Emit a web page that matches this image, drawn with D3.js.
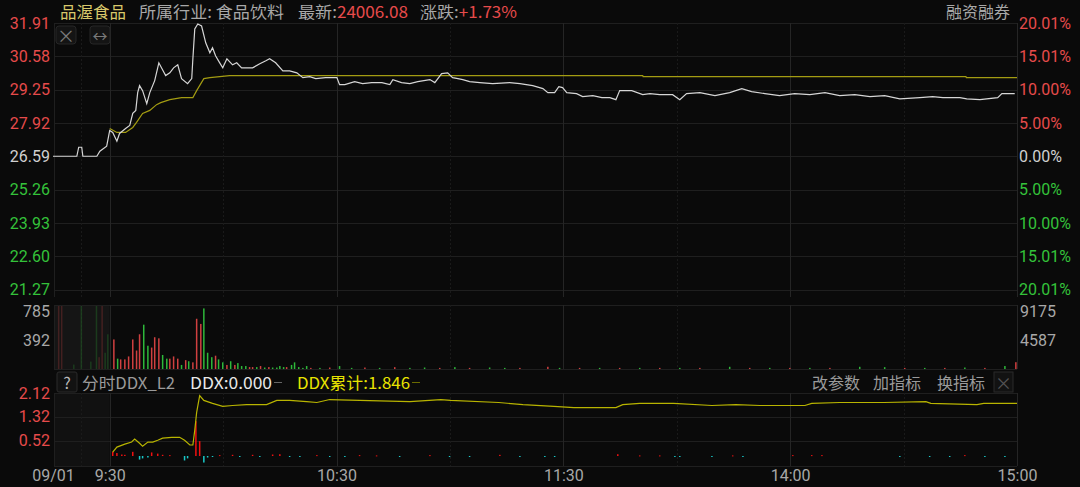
<!DOCTYPE html>
<html><head><meta charset="utf-8">
<script src="https://cdn.jsdelivr.net/npm/d3@7"></script>
<style>
html,body{margin:0;padding:0;background:#0a0a0a;}
svg{display:block;font-family:"Noto Sans CJK SC","Noto Sans",sans-serif;}
</style></head>
<body>
<svg id="chart" width="1080" height="487"></svg>
<script>
// ---------- DATA (minutes from 9:30, trading time, lunch removed; negative = pre-market) ----------
const priceTicks = [31.91, 30.58, 29.25, 27.92, 26.59, 25.26, 23.93, 22.60, 21.27];
const pctTicks = ["20.01%", "15.01%", "10.00%", "5.00%", "0.00%", "5.00%", "10.00%", "15.01%", "20.01%"];
const prevClose = 26.59;
const volTicksLeft = [785, 392];
const volTicksRight = ["9175", "4587"];
const ddxTicks = [2.12, 1.32, 0.52];
const timeTicks = [-15, 0, 60, 120, 180, 240];
const timeTickLabels = ["09/01", "9:30", "10:30", "11:30", "14:00", "15:00"];

const priceTimes = [-15,-8.7,-8.2,-7.4,-7.1,-3.4,-2.6,-0.8,0,0.8,1.9,2.6,4.2,5.3,6.1,6.9,7.4,7.9,8.7,9.8,10.6,11.9,13.0,14.8,15.9,16.9,18.0,19.0,20.6,21.7,22.0,22.5,23.3,24.3,25.4,26.5,27.2,28.0,29.1,29.9,31.0,32.5,33.6,34.9,37.8,39.7,41.3,42.3,43.9,45.8,47.6,49.5,51.1,52.9,54.5,57.1,60.1,60.8,62.2,64.8,66.9,69.3,72.0,74.1,74.9,77.2,79.4,81.5,84.7,86.0,87.8,89.4,90.7,92.1,93.4,95.2,97.9,101.3,105.8,108.5,111.9,114.6,115.9,117.7,118.8,119.8,120.9,123.5,125.1,127.8,130.2,132.3,133.9,134.9,138.1,141.0,142.9,145.5,148.9,150.8,152.6,156.1,160.1,164.0,167.2,169.8,173.3,177.2,181.2,185.2,189.2,193.1,197.1,201.1,205.0,209.0,214.3,217.7,220.4,224.9,226.7,230.2,234.9,236.0,239.4];
const priceValues = [26.59,26.59,26.95,26.95,26.59,26.59,26.79,26.99,27.62,27.54,27.19,27.50,27.70,27.82,28.30,28.42,29.13,29.41,29.21,28.69,29.13,29.61,30.32,29.81,29.92,30.12,30.24,29.69,29.49,29.69,30.48,31.67,31.87,31.79,31.12,30.72,30.92,30.60,30.32,30.12,30.48,30.24,30.32,30.12,30.12,30.28,30.40,30.48,30.32,30.00,30.00,29.92,29.73,29.77,29.69,29.73,29.73,29.45,29.45,29.57,29.49,29.53,29.53,29.45,29.65,29.53,29.49,29.57,29.65,29.53,29.89,29.92,29.73,29.69,29.65,29.57,29.53,29.49,29.53,29.49,29.41,29.29,29.13,29.13,29.37,29.33,29.13,29.09,28.97,29.01,28.93,28.93,28.85,29.21,29.21,29.05,29.09,29.05,29.05,28.85,29.09,29.13,29.01,29.13,29.29,29.17,29.09,29.01,29.09,29.05,29.13,29.01,29.05,28.97,29.01,28.88,28.93,28.97,28.93,28.93,28.88,28.85,28.93,29.09,29.09];

const avgTimes = [0,1.9,4.2,6.1,7.1,8.7,10.6,12.4,13.5,15.9,19.0,22.0,23.0,24.9,26.5,31.7,141.0,141.1,226.5,226.6,240];
const avgValues = [27.70,27.54,27.54,27.74,27.94,28.30,28.42,28.65,28.73,28.85,28.93,28.93,29.21,29.69,29.73,29.81,29.81,29.77,29.77,29.73,29.73];

const volPreTimes = [-13.5,-12.7,-9.5,-7.5,-5,-3.5,-2.8,-2,-1.2,-0.5];
const volPreValues = [900,900,60,900,100,900,160,900,220,470];
const volPreUp = [1,1,0,0,0,0,1,1,0,0];

const volTimes = [1.1,2.1,2.9,4.0,5.0,6.1,7.1,7.9,9.0,10.1,11.1,11.9,13.0,14.0,15.1,15.9,16.9,18.0,19.0,20.1,20.9,22.0,23.0,24.1,24.9,25.9,27.0,28.0,28.8,29.9,31.0,32.0,33.1,33.9,34.9,36.0,37.0,37.8,38.9,39.9,41.0,42.1,43.1,44.2,45.0,46.0,46.8,48.1,48.9,50.0,51.1,52.1,53.2,55.6,58.2,60.8,64.0,67.5,71.4,75.4,79.4,83.3,87.3,91.3,95.2,100.5,104.5,108.5,115.9,119.0,124.3,129.6,134.9,140.2,145.5,150.8,156.1,164.0,169.3,174.6,179.9,185.2,190.5,198.4,205.0,210.3,215.6,220.9,226.2,231.5,236.8,239.7];
const volValues = [400,140,130,130,170,400,250,470,600,315,290,430,415,190,140,140,170,140,55,120,105,90,680,610,820,220,160,180,130,90,55,105,55,80,40,40,26,26,26,40,20,26,20,20,40,26,26,55,90,26,15,40,15,15,20,40,15,20,15,25,15,20,15,25,15,20,15,15,30,15,15,15,15,15,15,15,15,30,15,15,15,15,15,30,25,15,15,15,20,15,40,92];
const volUp = [1,0,1,1,1,1,1,1,0,0,1,1,1,0,0,1,1,1,0,1,0,1,1,1,0,0,0,1,0,0,1,0,1,0,0,0,1,1,0,1,0,1,0,0,0,0,1,0,0,0,0,0,1,0,1,0,0,1,0,1,0,0,1,0,1,0,0,1,1,0,1,0,1,0,1,0,1,0,1,0,1,0,1,0,0,1,0,1,0,1,0,1];

const ddxTimes = [0.8,1.9,3.2,4.0,6.1,7.9,8.7,10.1,11.1,12.7,14.0,15.9,19.8,20.6,22.8,23.8,24.9,25.9,27.2,29.1,32.5,34.4,37.8,39.7,43.1,45.0,47.6,50.3,54.8,58.2,62.2,66.1,70.6,76.7,84.7,89.9,95.2,103.2,108.5,115.1,117.7,134.4,140.2,145.5,149.5,150.8,159.3,164.8,167.5,180.7,185.7,188.4,209.0,216.9,222.2,226.2,231.5,236.8];
const ddxValues = [0.14,0.10,0.05,0.04,0.14,-0.12,-0.08,-0.05,0.12,0.08,0.04,0.03,-0.15,-0.08,1.17,0.50,-0.22,-0.05,-0.03,0.03,0.04,-0.03,0.04,-0.02,0.05,0.06,-0.03,-0.02,0.03,-0.02,-0.02,0.03,0.02,-0.02,0.03,-0.02,-0.02,0.04,-0.02,-0.02,-0.02,0.06,0.02,0.02,-0.02,-0.02,-0.02,0.02,-0.02,0.03,0.03,0.03,-0.02,-0.02,-0.02,0.03,-0.02,-0.02];

const ddxCumTimes = [0.8,1.9,4.0,5.8,6.6,7.9,8.7,10.1,11.4,12.7,14.0,16.4,18.5,19.8,21.2,22.0,22.5,23.0,23.8,24.9,27.2,29.9,32.5,36.2,41.5,44.2,47.6,52.1,54.8,58.2,66.1,79.4,87.6,90.2,102.9,109.3,117.5,122.8,133.9,135.7,140.2,149.2,159.3,165.6,172.0,183.9,185.7,193.1,204.8,215.9,217.2,229.4,231.2,240];
const ddxCumValues = [0.13,0.30,0.40,0.47,0.57,0.43,0.33,0.47,0.47,0.53,0.60,0.63,0.63,0.53,0.37,0.37,0.87,1.47,2.03,1.87,1.77,1.67,1.70,1.73,1.73,1.87,1.87,1.83,1.80,1.90,1.87,1.83,1.90,1.87,1.80,1.73,1.67,1.63,1.63,1.73,1.77,1.77,1.70,1.73,1.70,1.70,1.77,1.80,1.80,1.83,1.77,1.73,1.77,1.77];

// ---------- DRAW ----------
const svg = d3.select("#chart");
const RED = "#e64b4b", GREEN = "#34c23a", GREY = "#a8a8a8", GRID = "#1f1f1f";
const NUMFONT = "Roboto, 'Noto Sans', sans-serif";
const X0 = 54, X1 = 1017;

const x = d3.scaleLinear().domain([-15, 240]).range([53, 1017]);
const yP = d3.scaleLinear().domain([21.27, 31.91]).range([289.5, 23]);
const yV = d3.scaleLinear().domain([0, 785]).range([369, 311]);
const yD = d3.scaleLinear().domain([0, 2.12]).range([456, 393]);

svg.append("rect").attr("width",1080).attr("height",487).attr("fill","#0a0a0a");

// pre-market shading
svg.append("rect").attr("x",X0).attr("y",305).attr("width",x(0)-X0).attr("height",64).attr("fill","#151515");
svg.append("rect").attr("x",X0).attr("y",393).attr("width",x(0)-X0).attr("height",73).attr("fill","#111111");

// horizontal grids
const g = svg.append("g");
g.selectAll(".hp").data(priceTicks).join("line")
  .attr("x1",X0).attr("x2",X1).attr("y1",d=>Math.round(yP(d))+0.5).attr("y2",d=>Math.round(yP(d))+0.5)
  .attr("stroke",GRID).attr("stroke-width",1);
[305, 369].forEach(v=>g.append("line").attr("x1",X0).attr("x2",X1).attr("y1",v+0.5).attr("y2",v+0.5).attr("stroke",GRID));
g.selectAll(".hd").data(ddxTicks).join("line")
  .attr("x1",X0).attr("x2",X1).attr("y1",d=>Math.round(yD(d))+0.5).attr("y2",d=>Math.round(yD(d))+0.5)
  .attr("stroke",GRID);
g.append("line").attr("x1",X0).attr("x2",X1).attr("y1",466.5).attr("y2",466.5).attr("stroke",GRID);

// vertical grids
const vMinutes = [-7.5,0,30,60,90,120,150,180,210,240];
const vSolid = [0,60,120,180,240];
[[23,297],[305,369],[393,466]].forEach(([a,b])=>{
  g.selectAll(null).data(vMinutes).join("line")
    .attr("x1",d=>Math.round(x(d))+0.5).attr("x2",d=>Math.round(x(d))+0.5).attr("y1",a).attr("y2",b)
    .attr("stroke",d=>vSolid.includes(d)?"#252525":"#1a1a1a")
    .attr("stroke-dasharray",d=>vSolid.includes(d)?null:"2,2");
  g.append("line").attr("x1",X0+0.5).attr("x2",X0+0.5).attr("y1",a).attr("y2",b).attr("stroke",GRID);
});

// ---------- Price panel ----------
const axL = d3.axisLeft(yP).tickValues(priceTicks).tickSize(0).tickPadding(0).tickFormat(d3.format(".2f"));
const gL = svg.append("g").attr("transform","translate(50,0)").call(axL);
gL.select(".domain").remove();
gL.selectAll("text").attr("font-size",16).attr("font-family",NUMFONT)
  .attr("fill",d=>d>prevClose+0.001?RED:(d<prevClose-0.001?GREEN:"#d0d0d0"));

const pctScale = d3.scalePoint().domain(d3.range(pctTicks.length)).range([yP(31.91), yP(21.27)]);
const axR = d3.axisRight(pctScale).tickSize(0).tickPadding(0).tickFormat(i=>pctTicks[i]);
const gR = svg.append("g").attr("transform","translate(1019,0)").call(axR);
gR.select(".domain").remove();
gR.selectAll("text").attr("font-size",16).attr("font-family",NUMFONT)
  .attr("fill",i=>i<4?RED:(i>4?GREEN:"#d0d0d0"));

// small buttons
const btn = svg.append("g");
[[56,"×"],[90,"↔"]].forEach(([bx,t])=>{
  btn.append("rect").attr("x",bx).attr("y",26).attr("width",20).attr("height",18).attr("rx",3)
    .attr("fill","#141414").attr("stroke","#262626");
  btn.append("text").attr("x",bx+10).attr("y",35).attr("text-anchor","middle").attr("dominant-baseline","central")
    .attr("fill","#7a7a7a").attr("font-size",t==="×"?18:15).text(t);
});

const lineP = d3.line().x((d,i)=>x(priceTimes[i])).y(d=>yP(d)).curve(d3.curveLinear);
svg.append("path").datum(avgValues).attr("fill","none").attr("stroke","#a39c12").attr("stroke-width",1.2)
  .attr("d",d3.line().x((d,i)=>x(avgTimes[i])).y(d=>yP(d)));
svg.append("path").datum(priceValues).attr("fill","none").attr("stroke","#d6d6d6").attr("stroke-width",1.2).attr("d",lineP);

// ---------- Volume panel ----------
svg.append("clipPath").attr("id","cv").append("rect").attr("x",X0).attr("y",306).attr("width",X1-X0).attr("height",63);
const vg = svg.append("g").attr("clip-path","url(#cv)");
vg.selectAll(".vp").data(volPreValues).join("rect")
  .attr("x",(d,i)=>x(volPreTimes[i])-0.75).attr("width",1.5)
  .attr("y",d=>yV(d)).attr("height",d=>yV(0)-yV(d))
  .attr("fill",(d,i)=>volPreUp[i]?RED:GREEN).attr("opacity",0.22);
vg.selectAll(".vb").data(volValues).join("rect")
  .attr("x",(d,i)=>x(volTimes[i])-0.75).attr("width",1.5)
  .attr("y",d=>yV(d)).attr("height",d=>yV(0)-yV(d))
  .attr("fill",(d,i)=>volUp[i]?"#d04040":"#2eb83a");

const axVL = d3.axisLeft(yV).tickValues(volTicksLeft).tickSize(0).tickPadding(0);
const gVL = svg.append("g").attr("transform","translate(50,0)").call(axVL);
gVL.select(".domain").remove();
gVL.selectAll("text").attr("font-size",16).attr("fill",GREY).attr("font-family",NUMFONT);
const yVR = d3.scalePoint().domain(volTicksRight).range([yV(785), yV(392)]);
const axVR = d3.axisRight(yVR).tickSize(0).tickPadding(0);
const gVR = svg.append("g").attr("transform","translate(1020,0)").call(axVR);
gVR.select(".domain").remove();
gVR.selectAll("text").attr("font-size",16).attr("fill",GREY).attr("font-family",NUMFONT);

// ---------- DDX panel ----------
svg.selectAll(".db").data(ddxValues).join("rect")
  .attr("x",(d,i)=>x(ddxTimes[i])-0.75).attr("width",1.5)
  .attr("y",d=>d>=0?yD(d):yD(0)).attr("height",d=>Math.max(1,Math.abs(yD(d)-yD(0))))
  .attr("fill",d=>d>=0?"#f01010":"#18c8c8");
svg.append("path").datum(ddxCumValues).attr("fill","none").attr("stroke","#b8b400").attr("stroke-width",1.2)
  .attr("d",d3.line().x((d,i)=>x(ddxCumTimes[i])).y(d=>yD(d)));

const axD = d3.axisLeft(yD).tickValues(ddxTicks).tickSize(0).tickPadding(0).tickFormat(d3.format(".2f"));
const gD = svg.append("g").attr("transform","translate(50,0)").call(axD);
gD.select(".domain").remove();
gD.selectAll("text").attr("font-size",16).attr("fill",RED).attr("font-family",NUMFONT);

// DDX header
const hd = svg.append("g").attr("font-size",16);
hd.append("rect").attr("x",57).attr("y",372).attr("width",20).attr("height",20).attr("rx",2).attr("fill","#121212").attr("stroke","#2a2a2a");
hd.append("text").attr("x",67).attr("y",382).attr("text-anchor","middle").attr("dominant-baseline","central").attr("fill","#bbbbbb").text("?");
hd.append("text").attr("x",82).attr("y",382).attr("dominant-baseline","central").attr("fill","#9a9a9a")
  .attr("textLength",93).attr("lengthAdjust","spacingAndGlyphs").text("分时DDX_L2");
hd.append("text").attr("x",190).attr("y",382).attr("dominant-baseline","central").attr("fill","#e8e8e8")
  .attr("textLength",82).attr("lengthAdjust","spacingAndGlyphs").text("DDX:0.000");
hd.append("line").attr("x1",274).attr("x2",282).attr("y1",382.5).attr("y2",382.5).attr("stroke","#666");
hd.append("text").attr("x",297).attr("y",382).attr("dominant-baseline","central").attr("fill","#e8e400")
  .attr("textLength",113).attr("lengthAdjust","spacingAndGlyphs").text("DDX累计:1.846");
hd.append("line").attr("x1",412).attr("x2",420).attr("y1",382.5).attr("y2",382.5).attr("stroke","#6a6a00");
[["改参数",812],["加指标",873],["换指标",937]].forEach(([t,px])=>{
  hd.append("text").attr("x",px).attr("y",382).attr("dominant-baseline","central").attr("fill","#9a9a9a").text(t);
});
hd.append("rect").attr("x",994).attr("y",372).attr("width",19).attr("height",20).attr("fill","#121212").attr("stroke","#2a2a2a");
hd.append("text").attr("x",1003.5).attr("y",382).attr("text-anchor","middle").attr("dominant-baseline","central").attr("fill","#555").attr("font-size",17).text("×");

// ---------- time axis ----------
const axT = d3.axisBottom(x).tickValues(timeTicks).tickSize(0).tickPadding(0).tickFormat((d,i)=>timeTickLabels[i]);
const gT = svg.append("g").attr("transform","translate(0,470)").call(axT);
gT.select(".domain").remove();
gT.selectAll("text").attr("font-size",16).attr("fill",GREY).attr("font-family",NUMFONT);

// ---------- header ----------
const h = svg.append("g").attr("font-size",16);
const hy = 11;
h.append("text").attr("x",60).attr("y",hy).attr("dominant-baseline","central").attr("fill","#d8c86a")
  .attr("textLength",66).attr("lengthAdjust","spacingAndGlyphs").text("品渥食品");
h.append("text").attr("x",139).attr("y",hy).attr("dominant-baseline","central").attr("fill","#a8a8a8")
  .attr("textLength",145).attr("lengthAdjust","spacingAndGlyphs").text("所属行业: 食品饮料");
const t1 = h.append("text").attr("x",298).attr("y",hy).attr("dominant-baseline","central")
  .attr("textLength",110).attr("lengthAdjust","spacingAndGlyphs");
t1.append("tspan").attr("fill","#a8a8a8").text("最新:");
t1.append("tspan").attr("fill",RED).text("24006.08");
const t2 = h.append("text").attr("x",420).attr("y",hy).attr("dominant-baseline","central")
  .attr("textLength",97).attr("lengthAdjust","spacingAndGlyphs");
t2.append("tspan").attr("fill","#a8a8a8").text("涨跌:");
t2.append("tspan").attr("fill",RED).text("+1.73%");
h.append("text").attr("x",1010).attr("y",hy).attr("text-anchor","end").attr("dominant-baseline","central").attr("fill","#a8a8a8").text("融资融券");
</script>
</body></html>
